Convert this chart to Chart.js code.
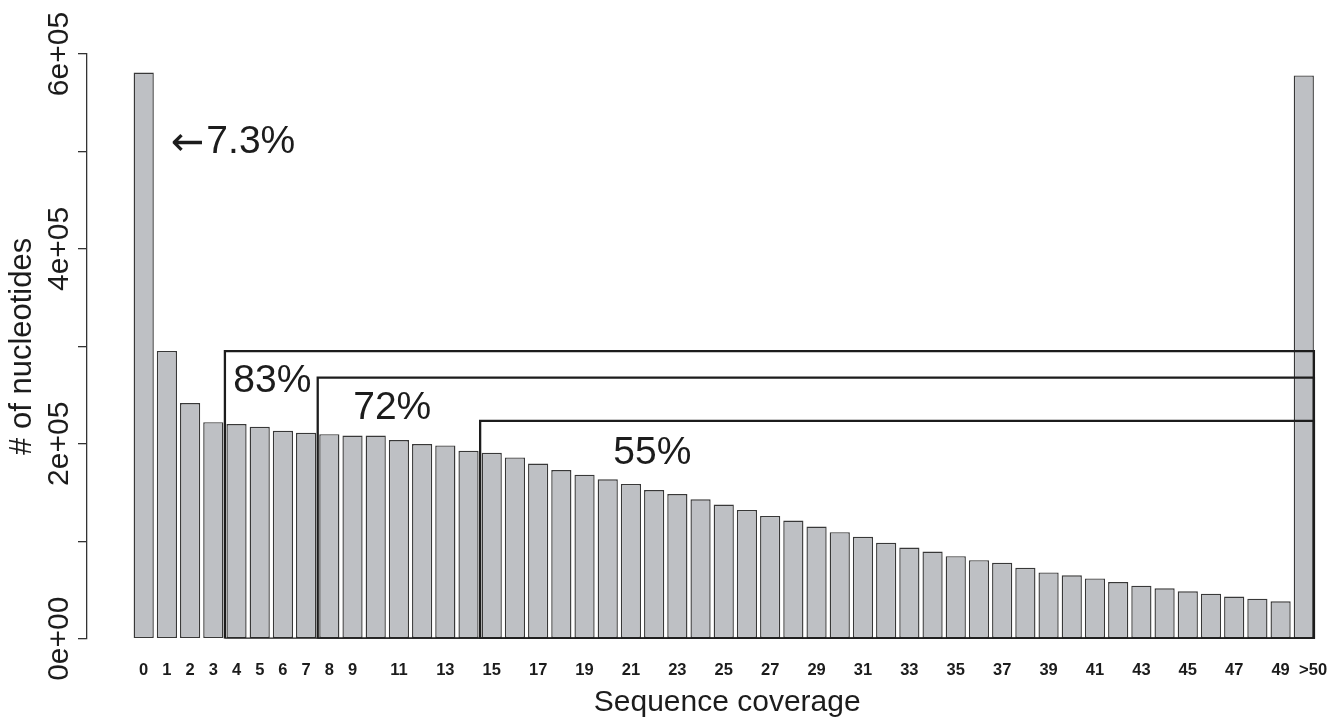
<!DOCTYPE html>
<html>
<head>
<meta charset="utf-8">
<title>Sequence coverage</title>
<script src="https://cdn.jsdelivr.net/npm/chart.js@4.4.0/dist/chart.umd.min.js"></script>
<style>
  html, body { margin: 0; padding: 0; background: #fff; }
  #wrap { width: 1337px; height: 718px; position: relative; }
</style>
</head>
<body>
<div id="wrap"><canvas id="coverageChart"></canvas></div>
<script>
// coverage classes (x) and number of nucleotides at each coverage (y)
const categories = [
  "0", "1", "2", "3", "4", "5", "6", "7", "8", "9",
  "10", "11", "12", "13", "14", "15", "16", "17", "18", "19",
  "20", "21", "22", "23", "24", "25", "26", "27", "28", "29",
  "30", "31", "32", "33", "34", "35", "36", "37", "38", "39",
  "40", "41", "42", "43", "44", "45", "46", "47", "48", "49", ">50"
];
const counts = [
  581000, 295300, 241800, 222200, 220200, 217400, 213300, 211300, 209900, 208500,
  208500, 203800, 199700, 198300, 192800, 190800, 186000, 179800, 173100, 168300,
  163500, 158800, 152600, 148500, 143000, 137600, 132100, 126000, 121200, 115100,
  109300, 104600, 98400, 93600, 89500, 84700, 80600, 77900, 72800, 68000,
  65000, 61900, 58100, 54400, 51700, 48600, 46200, 43200, 41100, 38400, 578000
];
// x labels that R actually printed (the others were dropped for overlap)
const shownTicks = [
  "0", "1", "2", "3", "4", "5", "6", "7", "8", "9",
  "11", "13", "15", "17", "19", "21", "23", "25", "27", "29",
  "31", "33", "35", "37", "39", "41", "43", "45", "47", "49", ">50"
];
const yTickValues = [0, 100000, 200000, 300000, 400000, 500000, 600000];
const yTickLabels = ["0e+00", "", "2e+05", "", "4e+05", "", "6e+05"];

// boxes: coverage >= from, up to ">50"
const bracketFrom = [4, 8, 15];
const bracketTop = [295000, 268000, 223500];
const bracketLabels = ["83%", "72%", "55%"];

const BAR_PCT = 0.87;
const FONT = "'Liberation Sans', Arial, Helvetica, sans-serif";
const INK = "#1c1c1c";

const barData = counts.map((v, i) => ({ x: i, y: v }));

const lastIdx = categories.length - 1;
const boxDatasets = bracketFrom.map((from, k) => {
  const x0 = from - 0.5;
  const x1 = lastIdx + BAR_PCT / 2;
  const top = bracketTop[k];
  return {
    type: "line",
    label: bracketLabels[k],
    data: [
      { x: x0, y: 0 }, { x: x0, y: top }, { x: x1, y: top },
      { x: x1, y: 0 }, { x: x0, y: 0 }
    ],
    borderColor: INK,
    borderWidth: 2.3,
    pointRadius: 0,
    tension: 0,
    fill: false,
    order: 1
  };
});

// text placed in data coordinates (left edge, baseline)
const notes = [
  { text: "7.3%", x: 2.7, y: 498400 },
  { text: bracketLabels[0], x: 3.86, y: 252900 },
  { text: bracketLabels[1], x: 9.03, y: 225600 },
  { text: bracketLabels[2], x: 20.24, y: 179500 }
];

const extraText = {
  id: "extraText",
  afterDraw(chart) {
    const { ctx, chartArea } = chart;
    const xs = chart.scales.x;
    const ys = chart.scales.y;
    ctx.save();
    ctx.fillStyle = INK;

    // rotated y tick labels, like R's las=0
    ctx.font = "30px " + FONT;
    ctx.textAlign = "center";
    ctx.textBaseline = "middle";
    yTickValues.forEach((v, i) => {
      if (!yTickLabels[i]) return;
      ctx.save();
      ctx.translate(chartArea.left - 27.4, ys.getPixelForValue(v));
      ctx.rotate(-Math.PI / 2);
      ctx.fillText(yTickLabels[i], 0, 0);
      ctx.restore();
    });

    // x axis title, centred on R's plot region
    ctx.font = "30px " + FONT;
    ctx.textBaseline = "alphabetic";
    ctx.fillText("Sequence coverage", xs.getPixelForValue(25.15), chartArea.bottom + 72);

    // annotations
    ctx.font = "39px " + FONT;
    ctx.textAlign = "left";
    notes.forEach(n => {
      ctx.fillText(n.text, xs.getPixelForValue(n.x), ys.getPixelForValue(n.y));
    });

    // the arrow in front of 7.3%
    ctx.font = "40px 'DejaVu Sans', sans-serif";
    ctx.textAlign = "right";
    ctx.fillText("\u2190", xs.getPixelForValue(2.7) - 2, ys.getPixelForValue(498400) + 2);
    ctx.restore();
  }
};

const ctx = document.getElementById("coverageChart").getContext("2d");

new Chart(ctx, {
  type: "bar",
  data: {
    datasets: [
      {
        label: "# of nucleotides",
        data: barData,
        backgroundColor: "#bec0c4",
        borderColor: "#383838",
        borderWidth: 1.4,
        borderSkipped: false,
        barPercentage: BAR_PCT,
        categoryPercentage: 1,
        order: 2
      },
      ...boxDatasets
    ]
  },
  options: {
    responsive: true,
    maintainAspectRatio: false,
    animation: false,
    layout: { padding: { left: 0, top: 54, right: 10, bottom: 37.5 } },
    plugins: {
      legend: { display: false },
      tooltip: { enabled: false }
    },
    scales: {
      x: {
        type: "linear",
        min: -2.444,
        max: 51.0,
        offset: false,
        afterBuildTicks: (scale) => {
          // the ">50" label sits a little right of its bar in the original
          scale.ticks = categories.map((c, i) => ({ value: i === lastIdx ? i + 0.4 : i }));
        },
        grid: {
          display: true,
          drawOnChartArea: false,
          drawTicks: true,
          tickLength: 22,
          color: "rgba(0,0,0,0)"
        },
        border: { display: false },
        ticks: {
          autoSkip: false,
          maxRotation: 0,
          minRotation: 0,
          padding: 0,
          color: INK,
          font: { family: FONT, size: 16.5, weight: "bold" },
          callback: (value) => {
            const lab = categories[Math.round(value)];
            return shownTicks.includes(lab) ? lab : "";
          }
        }
      },
      y: {
        min: 0,
        max: 600000,
        afterBuildTicks: (scale) => {
          scale.ticks = yTickValues.map(v => ({ value: v }));
        },
        grid: {
          display: true,
          drawOnChartArea: false,
          drawTicks: true,
          tickLength: 9,
          color: "#333",
          lineWidth: 1.3
        },
        border: { display: true, color: "#333", width: 1.3 },
        ticks: { display: false },
        title: {
          display: true,
          text: "# of nucleotides",
          color: INK,
          font: { family: FONT, size: 31, lineHeight: 1 },
          padding: { top: 7.1, bottom: 39.9 }
        }
      }
    }
  },
  plugins: [extraText]
});
</script>
</body>
</html>
